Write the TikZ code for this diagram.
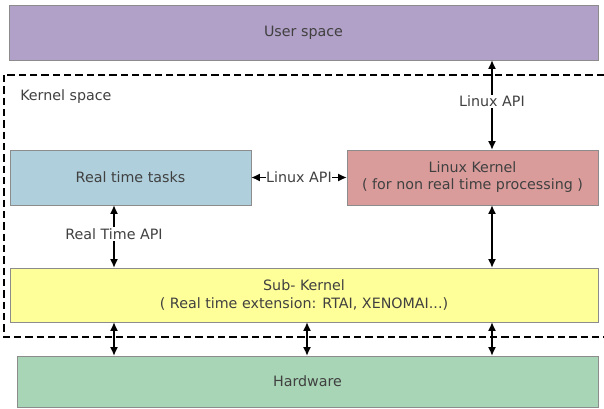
\documentclass[tikz,border=0pt]{standalone}
\usepackage{fontspec}
\setmainfont{DejaVu Sans}
\usetikzlibrary{arrows.meta}
\definecolor{userviolett}{HTML}{B1A0C7}
\definecolor{rtblau}{HTML}{AFCFDC}
\definecolor{linuxrot}{HTML}{D99C9B}
\definecolor{subgelb}{HTML}{FFFF99}
\definecolor{hwgruen}{HTML}{A8D5B5}
\definecolor{schrift}{HTML}{404040}
\begin{document}
\begin{tikzpicture}[x=0.75pt, y=-0.75pt,
			>={Latex[length=6.5pt, width=6pt]},   %Pfeilspitzen
			block/.style 2 args={draw=gray!90, text=schrift, align=center, inner sep=0pt,
				minimum width=#1*0.75pt, minimum height=#2*0.75pt},
			lab/.style={fill=white, text=schrift, inner sep=1pt},
			pfeil/.style={<->, line width=0.9pt},
			font=\fontsize{10.7}{12.8}\selectfont]
			%Bildbereich
			\useasboundingbox[fill=white] (0,0) rectangle (604,409);
			% Kernel-Bereich (gestrichelt)
			\draw[line width=2.1pt, dash pattern=on 5.5pt off 3pt] (4,75) rectangle (620,337);
			\node[text=schrift, anchor=west, inner sep=0pt] (kspace) at (20,97) {Kernel space};
			% Bloecke
			\node[block={589}{55}, fill=userviolett] (user) at (303.5,32.5) {User space};
			\node[block={241}{55}, fill=rtblau] (rt) at (130.5,177.5) {Real time tasks};
			\node[block={251}{55}, fill=linuxrot] (lk) at (472.5,177.5) {Linux Kernel\\( for non real time processing )};
			\node[block={588}{54}, fill=subgelb] (sub) at (304,295) {Sub- Kernel\\( Real time extension: RTAI, XENOMAI...)};
			\node[block={581}{51}, fill=hwgruen] (hw) at (307.5,381.5) {Hardware};
			% Hilfspunkte fuer die senkrechten Pfeile
			\coordinate (a1) at (114,0);
			\coordinate (a2) at (307,0);
			\coordinate (a3) at (492,0);
			% Pfeile
			\draw[pfeil] (user.south -| a3) -- node[lab, pos=0.46] {Linux API} (lk.north -| a3);
			\draw[pfeil] (rt.east) -- node[lab, inner sep=0.5pt] {Linux API} (lk.west);
			\draw[pfeil] (rt.south -| a1) -- node[lab, pos=0.46] {Real Time API} (sub.north -| a1);
			\draw[pfeil] (lk.south -| a3) -- (sub.north -| a3);
			\foreach \a in {a1,a2,a3} \draw[pfeil] (sub.south -| \a) -- (hw.north -| \a);
		\end{tikzpicture}
\end{document}
